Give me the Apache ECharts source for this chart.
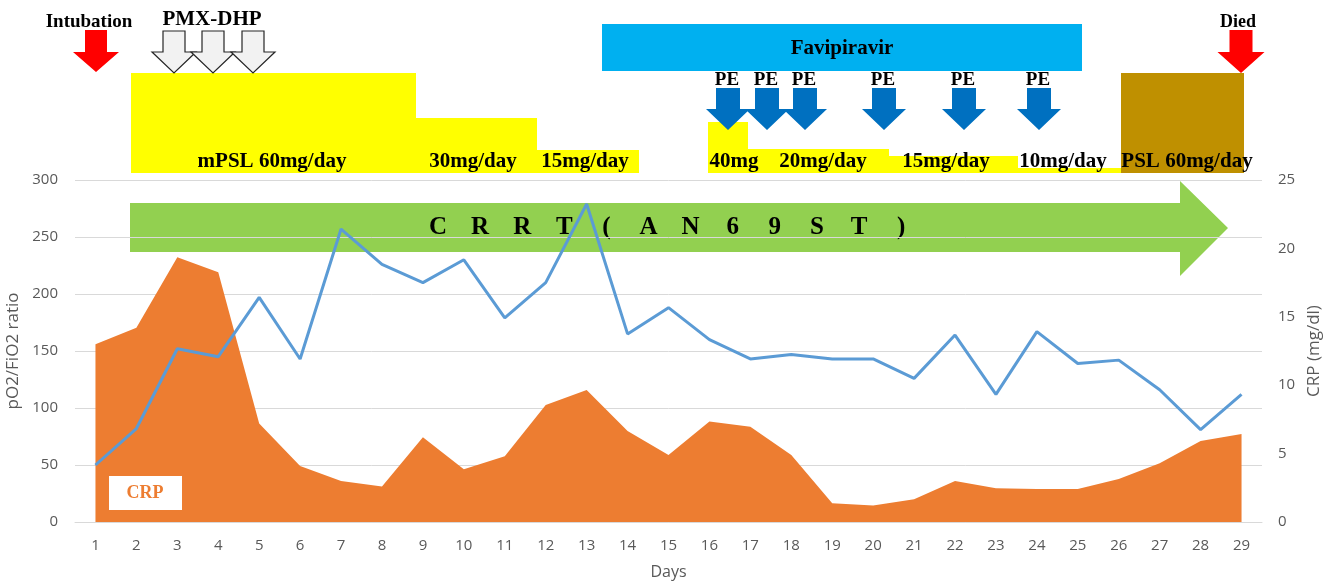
<!DOCTYPE html>
<html>
<head>
<meta charset="utf-8">
<title>pO2/FiO2 ratio and CRP</title>
<style>
  html, body { margin: 0; padding: 0; background: #ffffff; }
  #chart { width: 1330px; height: 582px; }
</style>
<script src="https://cdn.jsdelivr.net/npm/echarts@6/dist/echarts.min.js"></script>
</head>
<body>
<div id="chart"></div>
<script>
// data
const days = ['1', '2', '3', '4', '5', '6', '7', '8', '9', '10', '11', '12', '13', '14', '15',
  '16', '17', '18', '19', '20', '21', '22', '23', '24', '25', '26', '27', '28', '29'];

// pO2/FiO2 ratio (left axis)
const pfRatio = [50, 82, 152, 145, 197, 143, 257, 226, 210, 230, 179, 210, 279, 165, 188,
  160, 143, 147, 143, 143, 126, 164, 112, 167, 139, 142, 116, 81, 112];

// CRP mg/dl (right axis)
const crp = [13.0, 14.2, 19.35, 18.25, 7.2, 4.1, 3.0, 2.6, 6.2, 3.85, 4.8, 8.55, 9.65, 6.65, 4.9,
  7.35, 6.97, 4.9, 1.37, 1.2, 1.66, 3.0, 2.46, 2.41, 2.41, 3.14, 4.29, 5.92, 6.43];

const peLabels = ['PE', 'PE', 'PE', 'PE', 'PE', 'PE'];
const crrtText = 'CRRT(AN69ST)';

const SERIF = '"Liberation Serif", "Times New Roman", serif';
const SANS = '"Open Sans", "Noto Sans", sans-serif';
const GREY = '#595959';

// small helpers for the drawn annotations
function label(text, x, y, size, color, z) {
  return {
    type: 'text', x: x, y: y, z: z || 10,
    style: {
      text: text, font: 'bold ' + size + 'px ' + SERIF,
      fill: color || '#000000', align: 'center', verticalAlign: 'middle'
    }
  };
}

function box(x, y, w, h, fill, z) {
  return { type: 'rect', z: z || 5, shape: { x: x, y: y, width: w, height: h }, style: { fill: fill } };
}

function downArrow(cx, y0, y1, y2, sw, hw, fill, stroke) {
  return {
    type: 'polygon', z: 8,
    shape: {
      points: [[cx - sw, y0], [cx + sw, y0], [cx + sw, y1], [cx + hw, y1],
               [cx, y2], [cx - hw, y1], [cx - sw, y1]]
    },
    style: { fill: fill, stroke: stroke || null, lineWidth: stroke ? 1.2 : 0 }
  };
}

const graphics = [];

// steroid blocks
graphics.push(box(131, 73, 285, 100, '#FFFF00'));
graphics.push(box(416, 118, 121, 55, '#FFFF00'));
graphics.push(box(537, 150, 102, 23, '#FFFF00'));
graphics.push(box(708, 122, 40, 51, '#FFFF00'));
graphics.push(box(748, 149, 141, 24, '#FFFF00'));
graphics.push(box(889, 156, 129, 17, '#FFFF00'));
graphics.push(box(1018, 168, 103, 5, '#FFFF00'));
graphics.push(box(1121, 73, 123, 100, '#BF9000'));

// favipiravir bar
graphics.push(box(602, 24, 480, 47, '#00B0F0'));
graphics.push(label('Favipiravir', 842, 49, 21));

// arrows
graphics.push(downArrow(96, 30, 52, 72, 11, 23, '#FF0000'));
graphics.push(downArrow(1241, 30, 52, 73, 11.5, 23.5, '#FF0000'));
[174, 213, 253].forEach(function (cx) {
  graphics.push(downArrow(cx, 31, 52, 73, 11, 22, '#F2F2F2', '#262626'));
});
const peX = [728, 767, 805, 884, 964, 1039];
peX.forEach(function (cx, i) {
  graphics.push(downArrow(cx, 88, 109, 130, 12, 22, '#0070C0'));
  graphics.push(label(peLabels[i], cx - 1, 80, 19));
});

// top texts
graphics.push(label('Intubation', 89, 22, 19));
graphics.push(label('PMX-DHP', 212, 20, 21));
graphics.push(label('Died', 1238, 22, 18));
graphics.push(label('mPSL 60mg/day', 272, 162, 21));
graphics.push(label('30mg/day', 473, 162, 21));
graphics.push(label('15mg/day', 585, 162, 21));
graphics.push(label('40mg', 734, 162, 21));
graphics.push(label('20mg/day', 823, 162, 21));
graphics.push(label('15mg/day', 946, 162, 21));
graphics.push(label('10mg/day', 1063, 162, 21));
graphics.push(label('PSL 60mg/day', 1187, 162, 21));

// CRRT arrow behind the grid lines
graphics.push({
  type: 'polygon', z: -1,
  shape: { points: [[130, 203], [1180, 203], [1180, 181], [1228, 228], [1180, 276], [1180, 252], [130, 252]] },
  style: { fill: '#92D050' }
});
crrtText.split('').forEach(function (ch, i) {
  graphics.push(label(ch, 438 + i * 42.1, 228, 25, '#000000', -1));
});

// CRP legend box
graphics.push({ type: 'rect', z: 50, shape: { x: 109, y: 476, width: 73, height: 34 }, style: { fill: '#ffffff' } });
graphics.push(label('CRP', 145, 493, 18, '#ED7D31', 51));

const chart = echarts.init(document.getElementById('chart'));
chart.setOption({
  animation: false,
  backgroundColor: '#ffffff',
  grid: { left: 75, right: 68, top: 180, bottom: 60, outerBoundsMode: 'none', containLabel: false },
  xAxis: {
    type: 'category',
    data: days,
    boundaryGap: true,
    name: 'Days',
    nameLocation: 'middle',
    nameGap: 42,
    nameTextStyle: { color: GREY, fontSize: 16, fontFamily: SANS },
    axisLine: { lineStyle: { color: '#D9D9D9' } },
    axisTick: { show: false },
    axisLabel: { color: GREY, fontSize: 15, fontFamily: SANS, margin: 16 }
  },
  yAxis: [
    {
      type: 'value', min: 0, max: 300, interval: 50,
      name: 'pO2/FiO2 ratio',
      nameLocation: 'middle', nameRotate: 90, nameGap: 44,
      nameTextStyle: { color: GREY, fontSize: 17, fontFamily: SANS },
      axisLine: { show: false }, axisTick: { show: false },
      axisLabel: { color: GREY, fontSize: 15, fontFamily: SANS, margin: 17 },
      splitLine: { lineStyle: { color: '#D9D9D9', width: 1 } }
    },
    {
      type: 'value', min: 0, max: 25, interval: 5,
      name: 'CRP (mg/dl)',
      nameLocation: 'middle', nameRotate: 90, nameGap: 44,
      nameTextStyle: { color: GREY, fontSize: 17, fontFamily: SANS },
      axisLine: { show: false }, axisTick: { show: false },
      axisLabel: { color: GREY, fontSize: 15, fontFamily: SANS, margin: 16 },
      splitLine: { show: false }
    }
  ],
  series: [
    {
      name: 'CRP',
      type: 'line',
      yAxisIndex: 1,
      data: crp,
      showSymbol: false,
      lineStyle: { width: 0 },
      itemStyle: { color: '#ED7D31' },
      areaStyle: { color: '#ED7D31', opacity: 1 }
    },
    {
      name: 'pO2/FiO2 ratio',
      type: 'line',
      yAxisIndex: 0,
      data: pfRatio,
      showSymbol: false,
      lineStyle: { color: '#5B9BD5', width: 3 },
      itemStyle: { color: '#5B9BD5' }
    }
  ],
  graphic: { elements: graphics }
});
</script>
</body>
</html>
